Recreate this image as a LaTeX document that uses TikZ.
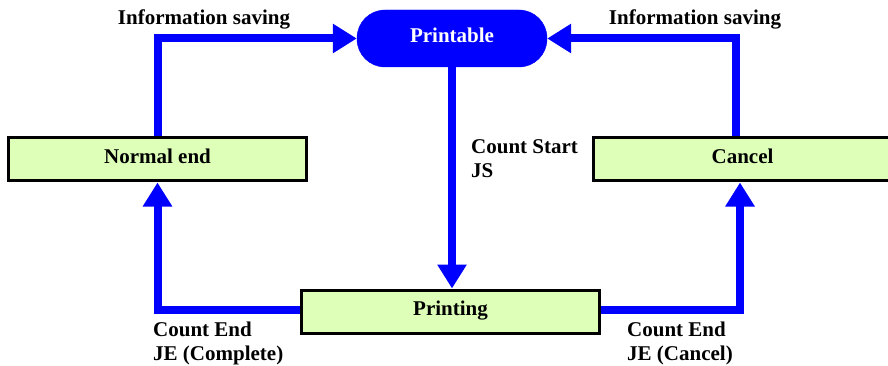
\documentclass[tikz,border=0pt]{standalone}
\usepackage{fontspec}
\setmainfont{Liberation Serif}
\usetikzlibrary{arrows.meta}
\definecolor{boxgreen}{HTML}{DDFFB8}
\definecolor{arrblue}{HTML}{0000FF}
\begin{document}
\begin{tikzpicture}[x=1pt,y=-1pt,
  font=\fontsize{21}{24}\selectfont\bfseries,
  boxtext/.style={text height=14pt, text depth=6pt},
  statebox/.style={boxtext, draw=black, line width=3pt, fill=boxgreen, minimum width=298pt, minimum height=43pt, inner sep=0pt},
  flow/.style={draw=arrblue, line width=8pt, line join=miter, -{Triangle[length=24pt,width=28pt]}},
  lbl/.style={inner sep=0pt, align=left, anchor=north west}]
\clip (0,0) rectangle (888,366);
\fill[white] (0,0) rectangle (888,366);
\node[boxtext, fill=arrblue, draw=arrblue, rounded corners=28pt, minimum width=190pt, minimum height=57pt, inner sep=0pt, text=white] (pa) at (452,38.5) {Printable};
\node[statebox] (ne) at (157.5,159.5) {Normal end};
\node[statebox] (pg) at (450.5,311.5) {Printing};
\node[statebox] (ca) at (742.5,159.5) {Cancel};
\draw[flow] (ne.north) |- (pa.west);
\draw[flow] ([xshift=-6.5pt]ca.north) |- (pa.east);
\draw[flow] (pa.south) -- (pa.south |- pg.north);
\draw[flow] ([yshift=2pt]pg.west) -| (ne.south);
\draw[flow] ([yshift=2pt]pg.east) -| ([xshift=-2.5pt]ca.south);
\node[inner sep=0pt, anchor=base] (il) at (204,25) {Information saving};
\node[inner sep=0pt, anchor=base] (ir) at (695,25) {Information saving};
\node[lbl] (cs) at (471,139) {Count Start\\JS};
\node[lbl] (cel) at (153,321.5) {Count End\\JE (Complete)};
\node[lbl] (cer) at (627,321.5) {Count End\\JE (Cancel)};
\end{tikzpicture}
\end{document}
